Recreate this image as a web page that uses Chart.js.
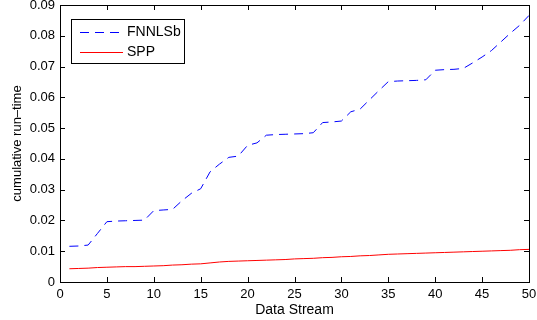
<!DOCTYPE html>
<html>
<head>
<meta charset="utf-8">
<script src="https://cdn.jsdelivr.net/npm/chart.js@4.4.1/dist/chart.umd.min.js"></script>
<style>
  html, body { margin: 0; padding: 0; background: #fff; }
</style>
</head>
<body>
<canvas id="chart" width="537" height="320"></canvas>
<script>
const streams = [1, 2, 3, 4, 5, 6, 7, 8, 9, 10, 11, 12, 13, 14, 15, 16, 17, 18, 19, 20,
  21, 22, 23, 24, 25, 26, 27, 28, 29, 30, 31, 32, 33, 34, 35, 36, 37, 38, 39, 40,
  41, 42, 43, 44, 45, 46, 47, 48, 49, 50];

const fnnlsb = [0.0116, 0.0117, 0.0120, 0.0158, 0.0196, 0.0198, 0.0199, 0.0200, 0.0201, 0.0232,
  0.0234, 0.0236, 0.0264, 0.0288, 0.0303, 0.0358, 0.0383, 0.0405, 0.0409, 0.0444,
  0.0452, 0.0477, 0.0479, 0.0480, 0.0481, 0.0482, 0.0485, 0.0518, 0.0520, 0.0523,
  0.0553, 0.0562, 0.0592, 0.0622, 0.0651, 0.0653, 0.0654, 0.0655, 0.0657, 0.0688,
  0.0690, 0.0691, 0.0694, 0.0712, 0.0731, 0.0752, 0.0780, 0.0808, 0.0834, 0.0866];

const spp = [0.0043, 0.0044, 0.0045, 0.0047, 0.0048, 0.0049, 0.0050, 0.0050, 0.0051, 0.0052,
  0.0053, 0.0055, 0.0056, 0.0058, 0.0059, 0.0062, 0.0065, 0.0067, 0.0068, 0.0069,
  0.0070, 0.0071, 0.0072, 0.0073, 0.0075, 0.0076, 0.0077, 0.0079, 0.0080, 0.0082,
  0.0083, 0.0085, 0.0086, 0.0088, 0.0090, 0.0091, 0.0092, 0.0093, 0.0094, 0.0095,
  0.0096, 0.0097, 0.0098, 0.0099, 0.0100, 0.0101, 0.0102, 0.0103, 0.0105, 0.0106];

const seriesNames = ["FNNLSb", "SPP"];
const xTicks = [0, 5, 10, 15, 20, 25, 30, 35, 40, 45, 50];
const yTicks = [0, 0.01, 0.02, 0.03, 0.04, 0.05, 0.06, 0.07, 0.08, 0.09];

const FONT = "'Liberation Sans', Arial, Helvetica, sans-serif";
Chart.defaults.font.family = FONT;
Chart.defaults.color = "#000";

// box, inward ticks on all four sides (matlab style)
const frame = {
  id: "frame",
  afterDraw(c) {
    const { ctx, chartArea: a, scales } = c;
    ctx.save();
    ctx.strokeStyle = "#000";
    ctx.lineWidth = 1;
    ctx.beginPath();
    xTicks.forEach(v => {
      const px = Math.round(scales.x.getPixelForValue(v)) + 0.5;
      ctx.moveTo(px, a.bottom); ctx.lineTo(px, a.bottom - 5);
      ctx.moveTo(px, a.top); ctx.lineTo(px, a.top + 5);
    });
    yTicks.forEach(v => {
      const py = Math.round(scales.y.getPixelForValue(v)) + 0.5;
      ctx.moveTo(a.left, py); ctx.lineTo(a.left + 5, py);
      ctx.moveTo(a.right, py); ctx.lineTo(a.right - 5, py);
    });
    ctx.stroke();
    ctx.strokeRect(Math.round(a.left) + 0.5, Math.round(a.top) + 0.5,
      Math.round(a.right - a.left), Math.round(a.bottom - a.top));
    ctx.restore();
  }
};

// legend box in the upper left of the plot
const boxLegend = {
  id: "boxLegend",
  afterDraw(c) {
    const { ctx, chartArea: a } = c;
    const x0 = a.left + 11, y0 = a.top + 14, w = 113, h = 44;
    ctx.save();
    ctx.fillStyle = "#fff";
    ctx.fillRect(x0, y0, w, h);
    ctx.strokeStyle = "#000";
    ctx.lineWidth = 1;
    ctx.strokeRect(x0 + 0.5, y0 + 0.5, w, h);
    ctx.font = "14px " + FONT;
    ctx.textBaseline = "middle";
    c.data.datasets.forEach((ds, i) => {
      const y = y0 + 13 + i * 20 + 0.5;
      ctx.strokeStyle = ds.borderColor;
      ctx.setLineDash(ds.borderDash || []);
      ctx.beginPath();
      ctx.moveTo(x0 + 9, y);
      ctx.lineTo(x0 + 52, y);
      ctx.stroke();
      ctx.setLineDash([]);
      ctx.fillStyle = "#000";
      ctx.fillText(ds.label, x0 + 56, y);
    });
    ctx.restore();
  }
};

new Chart(document.getElementById("chart"), {
  type: "line",
  data: {
    datasets: [
      {
        label: seriesNames[0],
        data: streams.map((s, i) => ({ x: s, y: fnnlsb[i] })),
        borderColor: "#0000ff",
        borderWidth: 1,
        borderDash: [9, 6],
        pointRadius: 0,
        tension: 0
      },
      {
        label: seriesNames[1],
        data: streams.map((s, i) => ({ x: s, y: spp[i] })),
        borderColor: "#ff0000",
        borderWidth: 1,
        pointRadius: 0,
        tension: 0
      }
    ]
  },
  options: {
    responsive: false,
    animation: false,
    layout: { padding: { top: 5, right: 8, left: 0, bottom: 0 } },
    plugins: {
      legend: { display: false },
      tooltip: { enabled: false }
    },
    scales: {
      x: {
        type: "linear",
        min: 0,
        max: 50,
        afterBuildTicks: s => { s.ticks = xTicks.map(v => ({ value: v })); },
        afterFit: s => { s.height = 38; s.paddingLeft = 0; s.paddingRight = 0; },
        grid: { display: false, drawTicks: false },
        border: { display: false },
        ticks: { padding: 5, font: { size: 13 }, maxRotation: 0 },
        title: { display: true, text: "Data Stream", font: { size: 14 }, padding: { top: 0, bottom: 1 } }
      },
      y: {
        min: 0,
        max: 0.09,
        afterBuildTicks: s => { s.ticks = yTicks.map(v => ({ value: v })); },
        afterFit: s => { s.width = 60; s.paddingTop = 0; s.paddingBottom = 0; },
        grid: { display: false, drawTicks: false },
        border: { display: false },
        ticks: {
          padding: 5,
          font: { size: 13 },
          callback: v => (v === 0 ? "0" : v.toFixed(2))
        },
        title: { display: true, text: "cumulative run–time", font: { size: 13 }, padding: { top: 10, bottom: 0 } }
      }
    }
  },
  plugins: [frame, boxLegend]
});
</script>
</body>
</html>
